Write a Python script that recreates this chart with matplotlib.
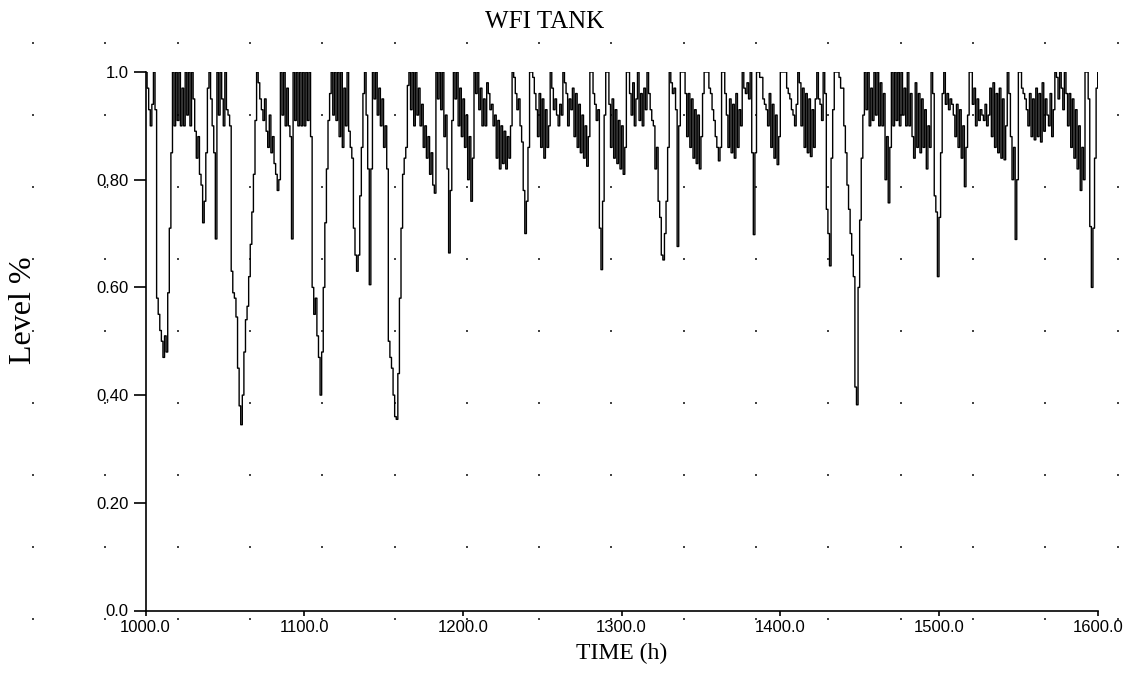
################################################################################################################
"""
WFI tank level over time
"""

# Libs
import numpy as np
import matplotlib
matplotlib.use("Agg")
import matplotlib.pyplot as plt

################################################################################################################

# --> Hourly tank level readings, one array per 100 h block
lvl_1000 = [1.00, 0.97, 0.93, 0.90, 0.94, 1.00, 0.93, 0.58, 0.55, 0.52,
            0.50, 0.47, 0.51, 0.48, 0.59, 0.71, 0.85, 1.00, 0.90, 1.00,
            0.91, 1.00, 0.90, 0.97, 0.90, 1.00, 0.92, 1.00, 0.90, 1.00,
            0.95, 0.89, 0.84, 0.88, 0.81, 0.79, 0.72, 0.76, 0.85, 0.97,
            1.00, 0.95, 0.90, 0.85, 0.69, 1.00, 0.92, 1.00, 0.95, 0.90,
            1.00, 0.93, 0.92, 0.90, 0.63, 0.59, 0.58, 0.545, 0.45, 0.38,
            0.345, 0.40, 0.48, 0.54, 0.565, 0.62, 0.68, 0.74, 0.81, 0.91,
            1.00, 0.98, 0.95, 0.93, 0.91, 0.95, 0.89, 0.86, 0.92, 0.85,
            0.88, 0.83, 0.81, 0.78, 0.80, 1.00, 0.92, 1.00, 0.90, 0.97,
            0.90, 0.88, 0.69, 1.00, 0.91, 1.00, 0.90, 1.00, 0.90, 1.00]

lvl_1100 = [0.90, 1.00, 0.91, 1.00, 0.88, 0.60, 0.55, 0.58, 0.51, 0.47,
            0.40, 0.48, 0.60, 0.72, 0.82, 0.91, 0.96, 1.00, 0.92, 1.00,
            0.91, 1.00, 0.88, 1.00, 0.86, 0.97, 0.90, 1.00, 0.89, 0.86,
            0.84, 0.71, 0.66, 0.63, 0.66, 0.77, 0.86, 0.96, 1.00, 0.92,
            0.82, 0.605, 0.82, 1.00, 0.95, 1.00, 0.92, 0.97, 0.90, 0.95,
            0.86, 0.90, 0.82, 0.50, 0.47, 0.45, 0.40, 0.36, 0.355, 0.44,
            0.58, 0.71, 0.81, 0.84, 0.86, 0.975, 1.00, 0.93, 1.00, 0.90,
            1.00, 0.92, 0.97, 0.90, 0.94, 0.86, 0.90, 0.84, 0.88, 0.81,
            0.85, 0.79, 0.775, 1.00, 0.95, 1.00, 0.93, 1.00, 0.88, 0.92,
            0.82, 0.664, 0.78, 0.91, 1.00, 0.95, 1.00, 0.90, 0.97, 0.88]

lvl_1200 = [0.95, 0.86, 0.92, 0.80, 0.88, 0.76, 0.84, 1.00, 0.96, 1.00,
            0.93, 0.97, 0.90, 0.95, 0.90, 0.98, 0.96, 0.93, 0.94, 0.90,
            0.92, 0.84, 0.91, 0.82, 0.90, 0.83, 0.89, 0.82, 0.88, 0.84,
            0.90, 1.00, 0.99, 0.96, 0.93, 0.95, 0.90, 0.87, 0.78, 0.70,
            0.76, 0.86, 1.00, 1.00, 0.99, 0.96, 0.93, 0.88, 0.96, 0.86,
            0.95, 0.84, 0.93, 0.86, 0.90, 1.00, 0.97, 0.93, 0.95, 0.92,
            0.90, 0.94, 0.92, 1.00, 0.98, 0.96, 0.90, 0.95, 0.93, 0.97,
            0.88, 0.96, 0.86, 0.94, 0.85, 0.92, 0.84, 0.90, 0.825, 0.88,
            1.00, 1.00, 0.96, 0.94, 0.91, 0.93, 0.71, 0.633, 0.76, 0.92,
            1.00, 1.00, 0.94, 0.86, 0.95, 0.84, 0.93, 0.83, 0.91, 0.82]

lvl_1300 = [0.90, 0.81, 0.86, 1.00, 1.00, 0.96, 0.92, 0.98, 0.90, 0.95,
            1.00, 0.91, 0.96, 0.90, 0.97, 0.93, 1.00, 0.96, 0.93, 0.91,
            0.90, 0.82, 0.86, 0.76, 0.73, 0.66, 0.651, 0.70, 0.76, 0.86,
            1.00, 0.98, 0.96, 0.97, 0.93, 0.676, 0.90, 1.00, 1.00, 1.00,
            0.96, 0.88, 0.96, 0.86, 0.95, 0.84, 0.93, 0.83, 0.92, 0.82,
            0.88, 0.96, 1.00, 1.00, 1.00, 0.97, 0.96, 0.93, 0.91, 0.88,
            0.86, 0.835, 0.86, 1.00, 1.00, 0.96, 0.92, 0.86, 0.95, 0.85,
            0.94, 0.84, 0.96, 0.86, 0.93, 0.90, 1.00, 0.97, 0.96, 0.98,
            0.95, 1.00, 0.85, 0.698, 0.85, 1.00, 1.00, 0.99, 0.99, 0.95,
            0.94, 0.93, 0.90, 0.96, 0.86, 0.94, 0.84, 0.92, 0.828, 0.88]

lvl_1400 = [1.00, 1.00, 1.00, 1.00, 0.97, 0.96, 0.95, 0.93, 0.92, 0.90,
            0.94, 1.00, 0.98, 0.90, 0.97, 0.86, 0.96, 0.85, 0.95, 0.843,
            0.93, 0.86, 0.95, 1.00, 0.95, 0.94, 0.91, 1.00, 0.96, 0.745,
            0.70, 0.64, 0.84, 0.93, 1.00, 1.00, 1.00, 0.99, 0.97, 0.97,
            0.90, 0.85, 0.79, 0.745, 0.70, 0.66, 0.62, 0.415, 0.382, 0.60,
            0.725, 0.84, 0.92, 1.00, 0.93, 1.00, 0.90, 0.97, 0.91, 1.00,
            0.92, 1.00, 0.90, 0.98, 0.90, 0.96, 0.80, 0.88, 0.757, 0.86,
            1.00, 0.90, 1.00, 0.91, 1.00, 0.90, 1.00, 0.92, 0.97, 0.90,
            1.00, 0.90, 0.96, 0.88, 0.84, 0.98, 0.86, 0.96, 0.85, 0.95,
            0.86, 0.93, 0.82, 0.90, 0.86, 1.00, 0.96, 0.77, 0.74, 0.62]

lvl_1500 = [0.73, 0.85, 0.96, 1.00, 0.94, 0.96, 0.93, 0.95, 0.94, 0.92,
            0.88, 0.94, 0.86, 0.93, 0.84, 0.90, 0.787, 0.86, 0.92, 1.00,
            1.00, 0.94, 0.97, 0.90, 0.95, 0.91, 0.93, 0.92, 0.91, 0.94,
            0.90, 0.92, 0.97, 0.88, 0.98, 0.86, 0.96, 0.85, 0.97, 0.84,
            0.95, 0.837, 0.90, 1.00, 0.96, 0.88, 0.80, 0.86, 0.689, 0.80,
            1.00, 1.00, 0.97, 0.96, 0.95, 0.93, 0.90, 0.96, 0.88, 0.95,
            0.874, 0.97, 0.88, 0.96, 0.87, 0.98, 0.89, 0.95, 0.92, 0.90,
            0.96, 0.88, 0.93, 1.00, 0.99, 0.95, 1.00, 0.97, 0.93, 1.00,
            0.96, 0.90, 0.96, 0.86, 0.95, 0.84, 0.93, 0.82, 0.90, 0.78,
            0.86, 0.80, 1.00, 1.00, 0.95, 0.713, 0.60, 0.71, 0.84, 0.97,
            1.00]

t_start = 1000.0
t_step = 1.0

x_ticks = [1000, 1100, 1200, 1300, 1400, 1500, 1600]
x_tick_labels = ["1000.0", "1100.0", "1200.0", "1300.0", "1400.0", "1500.0", "1600.0"]
y_ticks = [0.0, 0.2, 0.4, 0.6, 0.8, 1.0]
y_tick_labels = ["0.0", "0.20", "0,40", "0.60", "0,80", "1.0"]

################################################################################################################

level = np.array(lvl_1000 + lvl_1100 + lvl_1200 + lvl_1300 + lvl_1400 + lvl_1500)
time = t_start + t_step * np.arange(len(level))

W, H = 1129, 675
fig = plt.figure(figsize=(W / 100, H / 100), dpi=100)

# --> Background dotted grid (screen decoration of the original program)
bg = fig.add_axes([0, 0, 1, 1], zorder=0)
bg.set_xlim(0, W)
bg.set_ylim(H, 0)
bg.axis("off")
gx, gy = np.meshgrid(33 + 72.3 * np.arange(16), 43 + 72 * np.arange(9))
bg.scatter(gx.ravel(), gy.ravel(), s=2.5, c="#444444", marker="s", linewidths=0)

# --> Main plot
ax = fig.add_axes([145.5 / W, 1 - 610.5 / H, (1097.7 - 145.5) / W, (610.5 - 72) / H], zorder=1)
ax.patch.set_alpha(0)
ax.plot(time, level, drawstyle="steps-post", color="black", linewidth=1.0)

ax.set_xlim(1000, 1600)
ax.set_ylim(0, 1.0)
for side in ["top", "right"]:
    ax.spines[side].set_visible(False)
for side in ["left", "bottom"]:
    ax.spines[side].set_linewidth(1.2)

ax.set_xticks(x_ticks)
ax.set_xticklabels(x_tick_labels, fontfamily="Liberation Sans", fontsize=12)
ax.set_yticks(y_ticks)
ax.set_yticklabels(y_tick_labels, fontfamily="Liberation Sans", fontsize=12)
ax.tick_params(axis="y", direction="out", length=9, width=1.2, pad=3)
ax.tick_params(axis="x", direction="out", length=3.5, width=1.2, pad=3)

ax.set_xlabel("TIME (h)", fontfamily="Liberation Serif", fontsize=17, labelpad=6)

# --> Title and y label placed as in the original screen layout
fig.text(545 / W, 1 - 22 / H, "WFI TANK", ha="center", va="center",
         fontfamily="Liberation Serif", fontsize=18)
fig.text(24 / W, 1 - 310 / H, "Level %", ha="center", va="center", rotation=90,
         fontfamily="Liberation Serif", fontsize=23)

fig.savefig("out.png", dpi=100)
